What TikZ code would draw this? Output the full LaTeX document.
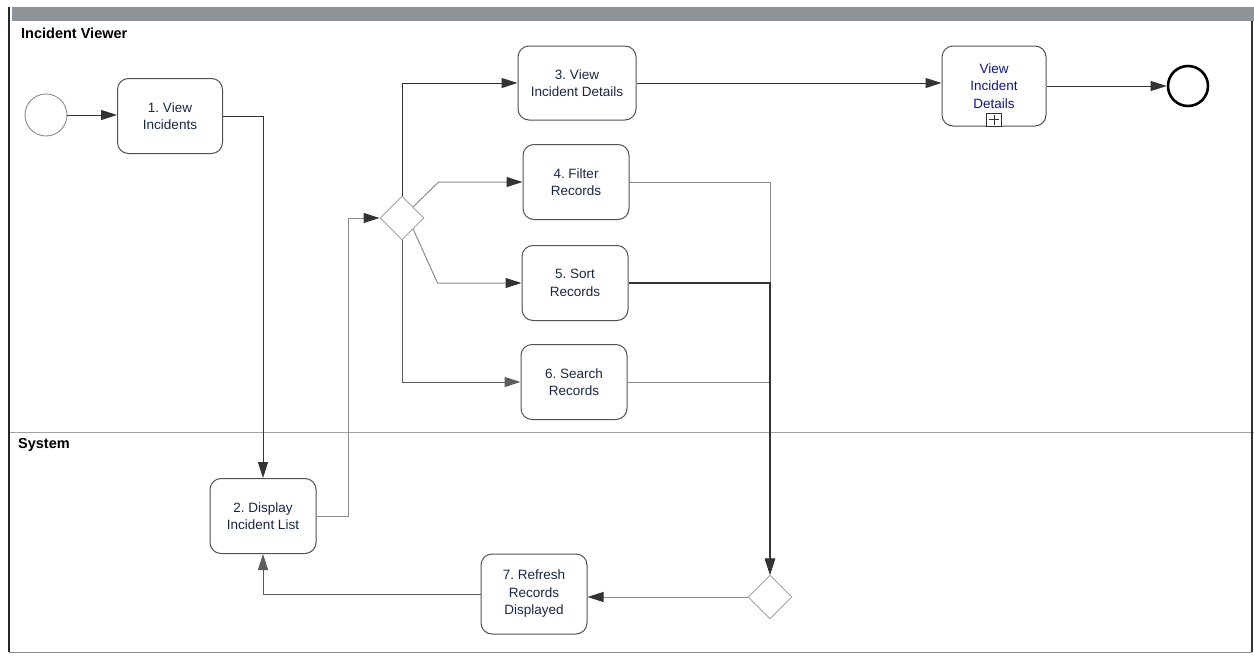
\documentclass[tikz,border=0pt]{standalone}
\usepackage{fontspec}
\setmainfont{Liberation Sans}
\usetikzlibrary{arrows.meta,shapes.geometric,calc}
\frenchspacing
\definecolor{txt}{HTML}{1A2744}
\definecolor{edge}{HTML}{333333}
\definecolor{lite}{HTML}{8C8C8C}
\definecolor{band}{HTML}{8E949A}
\tikzset{
  task/.style={draw=edge!85, line width=1pt, rounded corners=11pt, fill=white,
    inner sep=0pt, align=center, font=\fontsize{13.5}{17.5}\selectfont, text=txt},
  gw/.style={diamond, draw=lite!80, line width=0.9pt, fill=white,
    minimum width=44pt, minimum height=44pt, inner sep=0pt},
  flow/.style={draw=edge, line width=1pt, -{Triangle[length=16pt,width=10pt]}},
  lflow/.style={draw=lite, line width=1pt, -{Triangle[length=16pt,width=10pt,color=edge]}},
  lanelabel/.style={font=\bfseries\fontsize{14.5}{16}\selectfont, anchor=west, inner sep=0pt}
}
\begin{document}
\begin{tikzpicture}[x=1pt,y=-1pt]
\useasboundingbox (0,0) rectangle (1254,659);
\fill[white] (0,0) rectangle (1254,659);
% pool
\fill[band] (12,7) rectangle (1254,21);
\draw[lite!80, line width=0.8pt] (9,432) -- (1254,432);
\draw[lite, line width=0.8pt] (9,652) -- (1252,652);
\draw[black!80, line width=1.2pt] (1252,21) -- (1252,652);
\draw[black!85, line width=1.6pt] (9,7) -- (9,652);
\node[lanelabel] (lv) at (21,33) {Incident Viewer};
\node[lanelabel] (ls) at (18,445) {System};
% events
\node[circle, draw=lite, line width=0.9pt, minimum size=42pt, inner sep=0pt, fill=white] (start) at (46,115) {};
\node[circle, draw=black, line width=2.6pt, minimum size=40pt, inner sep=0pt, fill=white] (end) at (1188,86) {};
% tasks
\node[task, minimum width=105pt, minimum height=75pt] (t1) at (170,116) {1. View\\Incidents};
\node[task, minimum width=106pt, minimum height=75pt] (t2) at (263,516) {2. Display\\Incident List};
\node[task, minimum width=118pt, minimum height=74pt] (t3) at (577,83) {3. View\\Incident Details};
\node[task, minimum width=106pt, minimum height=75pt] (t4) at (576,182) {4. Filter\\Records};
\node[task, minimum width=106pt, minimum height=75pt] (t5) at (575,283) {5. Sort\\Records};
\node[task, minimum width=106pt, minimum height=75pt] (t6) at (574,382) {6. Search\\Records};
\node[task, minimum width=106pt, minimum height=80pt] (t7) at (534,594) {7. Refresh\\Records\\Displayed};
\node[task, minimum width=104pt, minimum height=80pt, text=txt!60!blue] (sub) at (994,86) {View\\Incident\\Details};
\node[draw=edge, line width=0.9pt, fill=white, minimum width=15pt, minimum height=13pt, inner sep=0pt, anchor=south] (subm) at (sub.south) {};
\draw[edge, line width=0.9pt] ($(subm.center)+(-5,0)$) -- ($(subm.center)+(5,0)$);
\draw[edge, line width=0.9pt] ($(subm.center)+(0,-5)$) -- ($(subm.center)+(0,5)$);
% gateways
\node[gw] (gw1) at (402,218) {};
\node[gw] (gw2) at (770,597) {};
% flows
\draw[flow] (start.east) -- (start.east -| t1.west);
\draw[flow] (t1.east) -| (t2.north);
\draw[lflow] (t2.east) -- ++(32,0) |- (gw1.west);
\draw[flow] (gw1.north) |- (t3.west);
\draw[lflow] (gw1.north east) -- ($(t4.west)+(-84,0)$) -- (t4.west);
\draw[lflow] (gw1.south east) -- ($(t5.west)+(-84,0)$) -- (t5.west);
\draw[flow, draw=edge!80] (gw1.south) |- (t6.west);
\draw[flow] (t3.east) -- (t3.east -| sub.west);
\draw[flow] (sub.east) -- (sub.east -| end.west);
\draw[lflow] (t4.east) -| (gw2.north);
\draw[lflow] (t6.east) -| (gw2.north);
\draw[flow, line width=1.3pt] (t5.east) -| (gw2.north);
\draw[lflow] (gw2.west) -- (gw2.west -| t7.east);
\draw[flow, draw=edge!80] (t7.west) -| (t2.south);
\end{tikzpicture}
\end{document}
